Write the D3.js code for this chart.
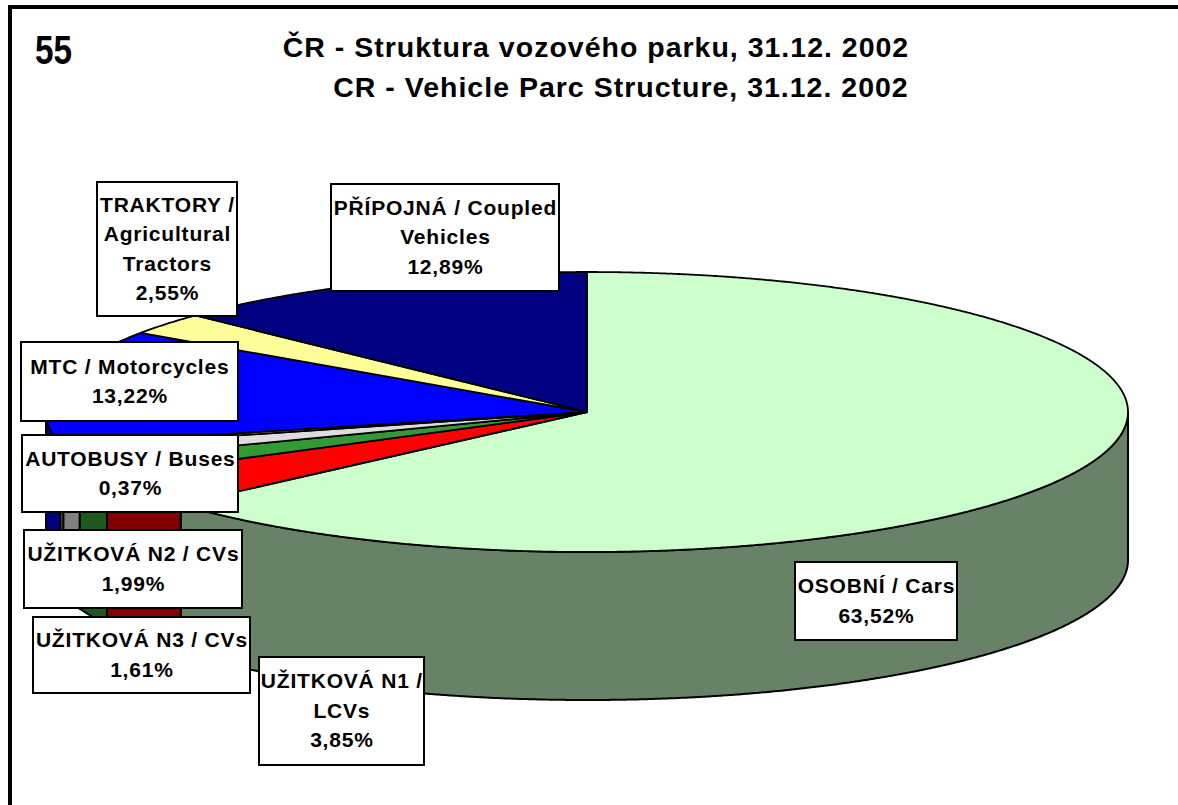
<!DOCTYPE html>
<html>
<head>
<meta charset="utf-8">
<script src="https://cdn.jsdelivr.net/npm/d3@7"></script>
<style>
  html, body { margin: 0; padding: 0; background: #fff; }
  svg { display: block; }
  text { font-family: "Liberation Sans", Arial, sans-serif; font-weight: bold; fill: #000; }
</style>
</head>
<body>
<svg id="chart" width="1178" height="805"></svg>
<script>
// Vehicle fleet shares, Czech Republic, 31 Dec 2002 (percent)
const categories = [
  "OSOBNÍ / Cars",
  "UŽITKOVÁ N1 / LCVs",
  "UŽITKOVÁ N2 / CVs",
  "UŽITKOVÁ N3 / CVs",
  "AUTOBUSY / Buses",
  "MTC / Motorcycles",
  "TRAKTORY / Agricultural Tractors",
  "PŘÍPOJNÁ / Coupled Vehicles"
];
const shares = [63.52, 3.85, 1.99, 1.61, 0.37, 13.22, 2.55, 12.89];

// How each category name is broken into lines inside its label box
const labelLines = [
  ["OSOBNÍ / Cars"],
  ["UŽITKOVÁ N1 /", "LCVs"],
  ["UŽITKOVÁ N2 / CVs"],
  ["UŽITKOVÁ N3 / CVs"],
  ["AUTOBUSY / Buses"],
  ["MTC / Motorcycles"],
  ["TRAKTORY /", "Agricultural", "Tractors"],
  ["PŘÍPOJNÁ / Coupled", "Vehicles"]
];

const titleLines = [
  "ČR - Struktura vozového parku, 31.12. 2002",
  "CR - Vehicle Parc Structure, 31.12. 2002"
];
const pageNumber = "55";

// Styling: top face and shaded outer wall per slice
const topColors  = ["#CCFFCC", "#FF0000", "#339933", "#DDDDDD", "#FF9999", "#0000FF", "#FFFF99", "#000080"];
const sideColors = ["#678267", "#800000", "#1E5A1E", "#808080", "#995C5C", "#000080", "#99994D", "#00004D"];

// Label box placement [x, y, width, height]
const labelBoxes = [
  [795, 562, 162, 78],
  [259, 657, 165, 108],
  [24, 530, 218, 78],
  [33, 617, 217, 76],
  [22, 435, 216, 77],
  [21, 342, 217, 79],
  [97, 182, 140, 134],
  [331, 184, 228, 107]
];

const svg = d3.select("#chart");

// Page frame (top and left rules)
svg.append("line").attr("x1", 8).attr("x2", 1178).attr("y1", 7).attr("y2", 7)
  .attr("stroke", "#000").attr("stroke-width", 4);
svg.append("line").attr("x1", 10).attr("x2", 10).attr("y1", 5).attr("y2", 805)
  .attr("stroke", "#000").attr("stroke-width", 4);

// Page number and titles
svg.append("text").attr("x", 35).attr("y", 64).attr("font-size", 40)
  .attr("textLength", 37).attr("lengthAdjust", "spacingAndGlyphs").text(pageNumber);
svg.append("text").attr("x", 596).attr("y", 57).attr("font-size", 28.5)
  .attr("letter-spacing", 1.0)
  .attr("text-anchor", "middle").text(titleLines[0]);
svg.append("text").attr("x", 621).attr("y", 97).attr("font-size", 28.5)
  .attr("letter-spacing", 1.0)
  .attr("text-anchor", "middle").text(titleLines[1]);

// 3D pie geometry
const cx = 587, cy = 412, rx = 541, ry = 140, depth = 148;

const pie = d3.pie().sort(null).value(d => d)
  .startAngle(0).endAngle(2 * Math.PI);
const arcs = pie(shares);

// Point on the top ellipse at a clockwise angle measured from 12 o'clock
const pt = (a, dy = 0) => [cx + rx * Math.sin(a), cy - ry * Math.cos(a) + dy];

function arcPoints(a0, a1, dy = 0) {
  const n = Math.max(2, Math.ceil(Math.abs(a1 - a0) / (Math.PI / 720)));
  return d3.range(n + 1).map(i => pt(a0 + (a1 - a0) * i / n, dy));
}

const line = d3.line();

// Outer walls: only the front half (90°..270°) faces the viewer
const wallGroup = svg.append("g");
arcs.forEach((d, i) => {
  const s0 = Math.max(d.startAngle, Math.PI / 2);
  const s1 = Math.min(d.endAngle, 3 * Math.PI / 2);
  if (s1 <= s0) return;
  const pts = arcPoints(s0, s1).concat(arcPoints(s1, s0, depth));
  wallGroup.append("path")
    .attr("d", line(pts) + "Z")
    .attr("fill", sideColors[i])
    .attr("stroke", "#000").attr("stroke-width", 2)
    .attr("stroke-linejoin", "round");
});

// Top faces
const topGroup = svg.append("g");
arcs.forEach((d, i) => {
  const pts = [[cx, cy]].concat(arcPoints(d.startAngle, d.endAngle));
  topGroup.append("path")
    .attr("d", line(pts) + "Z")
    .attr("fill", topColors[i])
    .attr("stroke", "#000").attr("stroke-width", 1.8)
    .attr("stroke-linejoin", "round");
});

// Data labels: name lines plus percentage with a decimal comma
const fmt = d3.formatLocale({ decimal: ",", thousands: " ", grouping: [3], currency: ["", ""] }).format(".2f");
const lineH = 29.5, labelSize = 21;

const labels = svg.append("g");
categories.forEach((c, i) => {
  const [bx, by, bw, bh] = labelBoxes[i];
  const g = labels.append("g");
  g.append("rect").attr("x", bx).attr("y", by).attr("width", bw).attr("height", bh)
    .attr("fill", "#fff").attr("stroke", "#000").attr("stroke-width", 2);
  const rows = labelLines[i].concat([fmt(shares[i]) + "%"]);
  const first = by + bh / 2 - (rows.length - 1) * lineH / 2 + labelSize * 0.33;
  rows.forEach((r, k) => {
    g.append("text")
      .attr("x", bx + bw / 2 + 0.4)
      .attr("y", first + k * lineH)
      .attr("text-anchor", "middle")
      .attr("font-size", labelSize)
      .attr("letter-spacing", 0.8)
      .text(r);
  });
});
</script>
</body>
</html>
